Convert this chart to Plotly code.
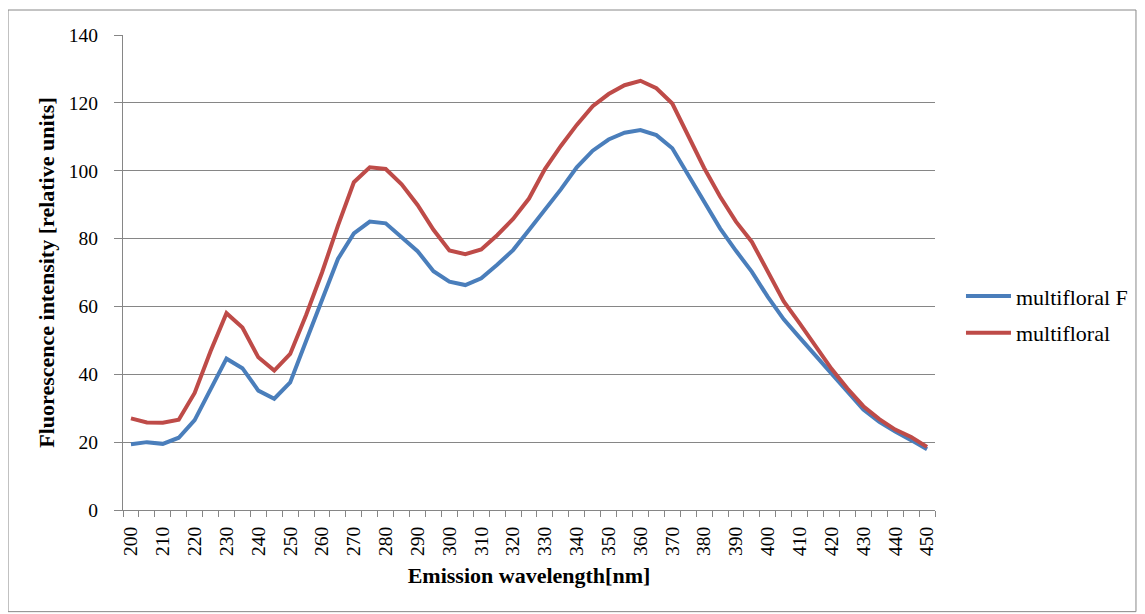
import plotly.graph_objects as go

wavelength = list(range(200, 451, 5))

multifloral_F = [19.4, 20.0, 19.5, 21.3, 26.5, 35.8, 44.6, 41.8, 35.2, 32.8, 37.6,
                 49.8, 62.0, 74.0, 81.5, 85.0, 84.5, 80.5, 76.3, 70.4, 67.3,
                 66.3, 68.3, 72.3, 76.6, 82.5, 88.4, 94.5, 101.0, 105.9, 109.2,
                 111.2, 112.0, 110.5, 106.6, 98.7, 90.6, 83.0, 76.4, 70.2, 62.8,
                 56.2, 50.8, 45.6, 40.0, 34.9, 29.6, 26.0, 23.1, 20.6, 17.9]

multifloral = [27.0, 25.8, 25.7, 26.6, 34.5, 46.8, 58.0, 53.8, 45.0, 41.1, 46.0,
               57.5, 70.0, 83.8, 96.6, 101.0, 100.5, 96.0, 89.9, 82.6, 76.5,
               75.4, 76.8, 81.0, 85.8, 91.8, 100.5, 107.3, 113.5, 119.0, 122.6,
               125.2, 126.5, 124.3, 119.8, 110.5, 100.8, 92.4, 85.0, 79.0, 70.0,
               61.5, 55.0, 48.3, 41.6, 35.8, 30.6, 26.8, 23.7, 21.5, 18.6]

series_names = ["multifloral F", "multifloral"]
series_colors = ["#4A7EBB", "#BE4B48"]

x_ticks = list(range(200, 451, 10))
y_ticks = list(range(0, 141, 20))

FONT = "Liberation Serif, Times New Roman, serif"

fig = go.Figure()
for name, vals, col in zip(series_names, [multifloral_F, multifloral], series_colors):
    fig.add_trace(go.Scatter(x=wavelength, y=vals, mode="lines", name=name,
                             legendgroup=name,
                             line=dict(color=col, width=4)))

# page body has an 8px margin: compensate so plot area lands at x 123-935, y 35-510
fig.update_layout(
    width=1137, height=606,
    margin=dict(l=115, r=210, t=27, b=104),
    paper_bgcolor="white", plot_bgcolor="white",
    font=dict(family=FONT, size=19, color="black"),
    showlegend=True,
    legend=dict(x=1.032, y=0.411, xanchor="left", yanchor="middle",
                font=dict(family=FONT, size=22, color="black"),
                itemwidth=45, tracegroupgap=5, bgcolor="rgba(0,0,0,0)"),
    xaxis=dict(
        range=[197.5, 452.5],
        tickmode="array", tickvals=x_ticks, ticktext=[str(v) for v in x_ticks],
        tickangle=-90, ticks="", ticklen=0,
        tickfont=dict(family=FONT, size=19.5),
        ticklabelstandoff=8,
        showgrid=False, zeroline=False,
        showline=True, linecolor="#868686", linewidth=1,
        minor=dict(ticks="outside", ticklen=6, tickcolor="#868686",
                   tick0=197.5, dtick=5, showgrid=False),
        title=dict(text="<b>Emission wavelength[nm]</b>",
                   font=dict(family=FONT, size=22), standoff=12),
    ),
    yaxis=dict(
        range=[0, 140], tickmode="array", tickvals=y_ticks,
        ticks="outside", ticklen=8, tickcolor="#868686",
        tickfont=dict(family=FONT, size=19.5),
        ticklabelstandoff=12,
        showgrid=True, gridcolor="#868686", gridwidth=1,
        zeroline=False,
        showline=True, linecolor="#868686", linewidth=1,
        title=dict(text="<b>Fluorescence intensity [relative units]</b>",
                   font=dict(family=FONT, size=22), standoff=8),
    ),
)

fig.add_shape(type="rect", xref="paper", yref="paper",
              x0=-0.1416, x1=1.2475, y0=-0.214, y1=1.0526,
              line=dict(color="#888888", width=1), fillcolor="rgba(0,0,0,0)")

fig.write_html("out.html")
